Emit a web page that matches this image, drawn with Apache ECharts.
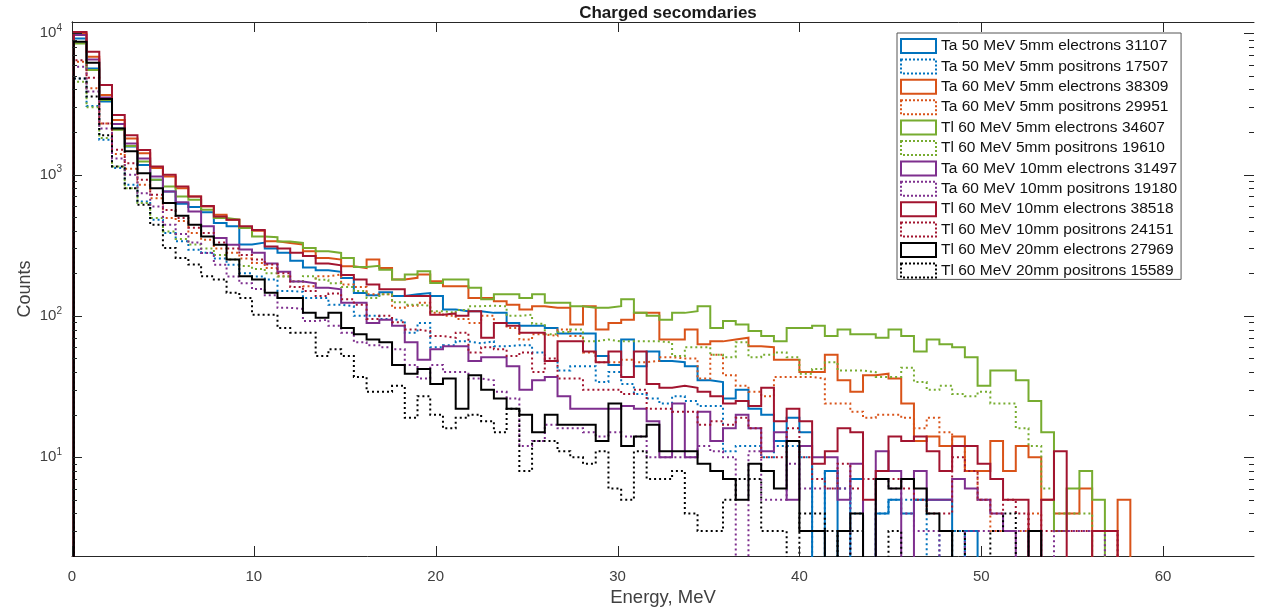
<!DOCTYPE html>
<html>
<head>
<meta charset="utf-8">
<script src="https://cdn.jsdelivr.net/npm/echarts@6.0.0/dist/echarts.min.js"></script>
<style>
html,body{margin:0;padding:0;background:#fff;}
#chart{width:1268px;height:613px;}
</style>
</head>
<body>
<div id="chart"></div>
<script>
// ---- bins (MeV) ----
const binStart = 0.1;
const binWidth = 0.7;
const xMin = 0, xMax = 65;
const yMin = 2, yMax = 12000;

// ---- legend names ----
const seriesNames = [
  'Ta 50 MeV 5mm electrons 31107',
  'Ta 50 MeV 5mm positrons 17507',
  'Ta 60 MeV 5mm electrons 38309',
  'Ta 60 MeV 5mm positrons 29951',
  'Tl 60 MeV 5mm electrons 34607',
  'Tl 60 MeV 5mm positrons 19610',
  'Ta 60 MeV 10mm electrons 31497',
  'Ta 60 MeV 10mm positrons 19180',
  'Tl 60 MeV 10mm electrons 38518',
  'Tl 60 MeV 10mm positrons 24151',
  'Tl 60 MeV 20mm electrons 27969',
  'Tl 60 MeV 20mm positrons 15589'
];

// ---- counts per bin (85 bins each) ----
const ta50e5 = [9170,5630,3280,2120,1580,1170,920,760,620,590,540,
  454,430,320,330,300,280,245,220,210,205,
  185,145,140,147,138,142,145,138,111,108,
  108,105,105,89,85,85,82,75,75,75,
  52,45,68,44,56,48,47,44,35,34,
  26,30,22,20,13,19,15,1,8,1,
  7,1,4,5,4,5,5,5,1,3,
  1,1,1,1,1,1,1,1,1,1,1,1,1,1];
const ta50p5 = [4780,3060,1760,1110,845,645,479,386,337,294,280,
  255,230,200,190,181,150,148,134,134,120,
  117,100,100,95,92,76,89,60,62,66,
  64,66,61,62,62,55,48,41,44,44,
  34,40,33,28,26,24,27,25,23,23,
  11,12,12,10,12,12,10,1,8,6,
  4,1,4,5,5,5,1,3,3,1,
  1,1,1,1,1,1,1,1,1,1,1,1,1,1];
const ta60e5 = [9960,6800,3650,2430,1800,1415,1110,970,800,700,594,
  520,479,418,400,337,328,320,286,257,250,
  224,218,250,218,181,186,196,176,162,162,
  134,134,127,120,111,117,114,114,87,117,
  80,89,94,105,105,68,68,80,63,66,
  68,70,61,60,49,49,40,40,53,35,
  29,38,39,36,24,13,14,12,14,8,
  8,13,8,12,10,5,4,4,6,1,
  1,5,1,1];
const ta60p5 = [6280,4070,2300,1400,1100,845,680,492,470,386,346,
  300,280,255,237,218,191,176,162,191,196,
  167,160,142,142,114,118,124,105,100,95,
  89,100,89,82,68,74,72,80,72,55,
  47,47,49,47,48,51,50,50,36,53,
  38,32,29,27,37,37,37,36,24,24,
  21,19,20,20,19,16,19,15,12,8,
  5,3,3,3,4,1,1,1,1,1,
  1,1,1,1];
const tl60e5 = [8450,5490,3370,2070,1590,1235,917,822,700,662,564,
  492,479,418,365,360,336,328,302,286,279,
  257,222,226,212,181,196,207,171,181,181,
  158,131,142,142,134,142,124,124,117,114,
  114,117,131,105,100,94,105,108,117,82,
  92,87,78,72,66,82,82,85,72,80,
  74,74,70,80,72,56,68,63,60,51,
  32,41,41,35,25,15,3,6,8,5,
  1,1,1,1];
const tl60p5 = [4530,2990,1810,1140,800,628,492,396,350,320,300,
  270,250,225,215,200,190,175,191,180,170,
  160,150,134,142,125,120,118,108,105,110,
  117,118,117,100,102,88,74,77,80,66,
  68,66,66,66,66,65,52,60,60,53,
  51,65,51,53,55,51,39,42,47,41,
  41,40,37,37,43,34,30,32,28,27,
  29,24,24,16,12,6,4,4,4,1,
  1,1,1,1];
const ta60e10 = [9690,6520,3510,2280,1660,1300,968,760,636,548,430,
  356,319,295,280,235,205,175,170,158,154,
  124,124,89,94,85,65,49,58,61,61,
  48,51,51,44,30,35,37,27,22,22,
  22,22,23,22,18,10,24,10,21,13,
  16,20,16,11,15,5,12,10,10,5,
  9,1,11,8,1,8,5,5,7,6,
  5,4,3,1,3,1,1,1,1,1,
  1,1,1,1];
const ta60p10 = [5780,3860,2120,1300,995,738,594,441,380,330,279,
  230,190,170,155,140,114,112,92,94,85,
  76,65,62,60,58,45,36,45,40,40,
  36,35,29,26,12,13,17,16,16,15,
  14,15,14,14,10,10,10,10,12,11,
  10,1,11,5,5,9,6,6,6,6,
  1,1,7,6,4,3,3,1,1,3,
  3,3,3,3,1,1,3,3,3,3,
  1,1,1,1];
const tl60e10 = [10200,7380,4300,2640,1900,1490,1140,995,823,700,600,
  505,479,430,405,310,300,280,265,235,228,
  195,181,167,154,154,138,138,102,104,100,
  108,70,89,85,76,76,48,66,66,56,
  47,56,37,56,33,31,32,31,29,27,
  24,25,23,31,18,22,18,9,11,16,
  15,5,8,14,13,14,11,8,12,12,
  9,7,5,5,1,5,11,1,1,3,
  3,1,1,1];
const tl60p10 = [6440,4840,2300,1500,1200,918,720,560,492,420,386,
  330,300,270,250,231,200,160,150,138,144,
  131,120,95,100,90,80,78,72,70,76,
  55,60,58,52,55,40,50,36,36,30,
  30,30,28,30,22,22,21,21,17,18,
  17,19,16,10,10,16,10,7,6,9,
  6,7,7,7,6,5,4,4,10,8,
  5,4,5,4,3,3,3,3,3,3,
  3,1,1,1];
const tl60e20 = [8690,6170,3420,2120,1460,1020,800,628,510,441,365,
  319,250,191,181,146,134,134,105,97,105,
  82,74,68,65,45,39,42,33,36,22,
  38,30,26,22,20,15,20,17,17,17,
  13,24,12,14,17,11,11,11,9,8,
  7,5,9,8,6,13,3,3,1,3,
  4,1,7,6,7,6,4,3,1,1,
  1,1,1,1,3,1,1,1,1,1,
  1,1,1,1];
const tl60p20 = [4780,3560,1900,1140,800,611,441,302,257,231,191,
  181,146,134,102,102,82,76,76,52,58,
  52,37,29,29,32,19,27,20,16,19,
  20,18,15,22,8,13,13,11,10,9,
  11,6,5,11,7,7,8,4,3,3,
  5,7,7,3,3,1,4,4,3,1,
  3,1,1,3,1,1,1,1,3,1,
  1,3,4,1,1,1,1,1,1,1,
  1,1,1,1];

const seriesValues = [ta50e5, ta50p5, ta60e5, ta60p5, tl60e5, tl60p5,
                      ta60e10, ta60p10, tl60e10, tl60p10, tl60e20, tl60p20];

// ---- ticks ----
const xTicks = [0, 10, 20, 30, 40, 50, 60];
const yMajorTicks = [10, 100, 1000, 10000];
const yMinorTicks = [3,4,5,6,7,8,9,20,30,40,50,60,70,80,90,
  200,300,400,500,600,700,800,900,2000,3000,4000,5000,6000,7000,8000,9000];

// ---- styles ----
const palette = ['#0072BD','#D95319','#77AC30','#7E2F8E','#A2142F','#000000'];
const FONT = 'Liberation Sans, Arial, sans-serif';
const AXIS_COLOR = '#262626';
const LABEL_COLOR = '#404040';
const MAJOR_LEN = 10, MINOR_LEN = 5;

function histPoints(vals){
  const pts = [[binStart, 1]];
  for (let k = 0; k < vals.length; k++) pts.push([binStart + k * binWidth, vals[k]]);
  pts.push([binStart + vals.length * binWidth, 1]);
  return pts;
}

const series = seriesValues.map((vals, i) => {
  const color = palette[Math.floor(i / 2)];
  const dotted = i % 2 === 1;
  return {
    name: seriesNames[i],
    type: 'line',
    step: 'end',
    data: histPoints(vals),
    symbol: 'none',
    showSymbol: false,
    clip: true,
    silent: true,
    lineStyle: {color: color, width: 2, type: dotted ? [2, 3] : 'solid', cap: 'butt', join: 'miter'},
    itemStyle: {color: color},
    animation: false
  };
});

function tickLine(x1, y1, x2, y2){
  return {type: 'line', shape: {x1: x1, y1: y1, x2: x2, y2: y2},
          style: {stroke: AXIS_COLOR, lineWidth: 1}};
}

// y ticks (left & right), drawn through the axis scale
series.push({
  type: 'custom', silent: true, clip: false, z: 10, animation: false,
  data: yMajorTicks.map(v => [xMin, v, 1]).concat(yMinorTicks.map(v => [xMin, v, 0])),
  renderItem: function(params, api){
    const v = api.value(1);
    const len = api.value(2) ? MAJOR_LEN : MINOR_LEN;
    const l = api.coord([xMin, v]);
    const r = api.coord([xMax, v]);
    const yl = Math.round(l[1]) + 0.5;
    return {type: 'group', children: [
      tickLine(l[0], yl, l[0] + len, yl),
      tickLine(r[0], yl, r[0] - len, yl)
    ]};
  }
});
// x ticks (bottom & top)
series.push({
  type: 'custom', silent: true, clip: false, z: 10, animation: false,
  data: xTicks.map(x => [x, yMin]),
  renderItem: function(params, api){
    const x = api.value(0);
    const b = api.coord([x, yMin]);
    const t = api.coord([x, yMax]);
    const xl = Math.round(b[0]) + 0.5;
    return {type: 'group', children: [
      tickLine(xl, b[1], xl, b[1] - MAJOR_LEN),
      tickLine(xl, t[1], xl, t[1] + MAJOR_LEN)
    ]};
  }
});

const legendData = seriesNames.map((n, i) => ({
  name: n,
  icon: 'rect',
  itemStyle: {
    color: 'rgba(255,255,255,0)',
    borderColor: palette[Math.floor(i / 2)],
    borderWidth: 2,
    borderType: i % 2 === 1 ? [2, 2] : 'solid'
  }
}));

function yLabel(v){
  const e = Math.round(Math.log10(v));
  return '{b|10}{s|' + e + '}';
}

const option = {
  animation: false,
  backgroundColor: '#fff',
  title: {
    text: 'Charged secomdaries',
    left: 663, top: 0, textAlign: 'center',
    textStyle: {fontFamily: FONT, fontSize: 17, fontWeight: 'bold', color: '#1a1a1a'}
  },
  legend: {
    data: legendData,
    orient: 'vertical',
    left: 897, top: 33,
    itemWidth: 35, itemHeight: 14, itemGap: 4.4,
    padding: [5, 4, 1, 3],
    backgroundColor: '#fff',
    borderColor: '#555',
    borderWidth: 1,
    borderRadius: 0,
    selectedMode: false,
    textStyle: {fontFamily: FONT, fontSize: 15.5, color: '#111'}
  },
  grid: {left: 72, right: 14, top: 22, bottom: 57, containLabel: false},
  xAxis: [{
    type: 'value', min: xMin, max: xMax, interval: 10,
    name: 'Energy, MeV', nameLocation: 'middle', nameGap: 32,
    nameTextStyle: {fontFamily: FONT, fontSize: 18.5, color: LABEL_COLOR},
    axisLine: {show: true, lineStyle: {color: AXIS_COLOR, width: 1}},
    axisTick: {show: false},
    axisLabel: {fontFamily: FONT, fontSize: 15, color: LABEL_COLOR, margin: 13, showMaxLabel: false},
    splitLine: {show: false}
  }, {
    type: 'value', min: xMin, max: xMax, interval: 10, position: 'top',
    axisLine: {show: true, lineStyle: {color: AXIS_COLOR, width: 1}},
    axisTick: {show: false},
    axisLabel: {show: false}, splitLine: {show: false}
  }],
  yAxis: [{
    type: 'log', logBase: 10, min: yMin, max: yMax,
    name: 'Counts', nameLocation: 'middle', nameGap: 38, nameMoveOverlap: false,
    nameTextStyle: {fontFamily: FONT, fontSize: 18, color: LABEL_COLOR},
    axisLine: {show: true, lineStyle: {color: AXIS_COLOR, width: 1}},
    axisTick: {show: false},
    axisLabel: {
      showMinLabel: false, showMaxLabel: false, margin: 10,
      formatter: yLabel,
      rich: {
        b: {fontFamily: FONT, fontSize: 15, color: LABEL_COLOR},
        s: {fontFamily: FONT, fontSize: 10, color: LABEL_COLOR, padding: [0, 0, 10, 0]}
      }
    },
    splitLine: {show: false}, minorTick: {show: false}
  }, {
    type: 'log', logBase: 10, min: yMin, max: yMax, position: 'right',
    axisLine: {show: true, lineStyle: {color: AXIS_COLOR, width: 1}},
    axisTick: {show: false},
    axisLabel: {show: false}, splitLine: {show: false}
  }],
  series: series
};

const chart = echarts.init(document.getElementById('chart'), null, {renderer: 'canvas'});
chart.setOption(option);
</script>
</body>
</html>
